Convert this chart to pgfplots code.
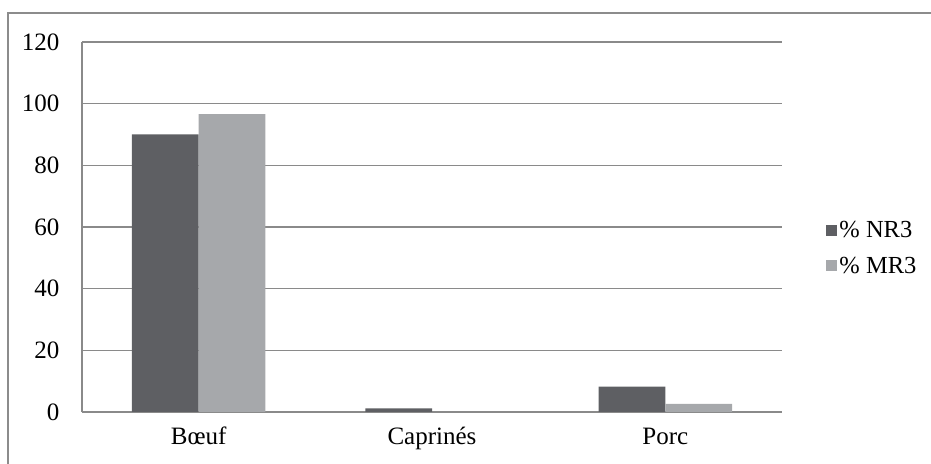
\documentclass[border=0pt]{standalone}
\usepackage{fontspec}
\setmainfont{Liberation Serif}
\usepackage{pgfplots}
\pgfplotsset{compat=1.18}
\definecolor{nrgray}{HTML}{5E5F63}
\definecolor{mrgray}{HTML}{A6A8AB}
\definecolor{linegray}{HTML}{8A8A8A}
\definecolor{framegray}{HTML}{8C8C8C}

\begin{document}
\begin{tikzpicture}
  \useasboundingbox (0bp,0bp) rectangle (931bp,464bp);
  % outer chart frame (image coords: left 8, top 13)
  \draw[framegray, line width=1.5bp] (8bp,-10bp) rectangle (940bp,451bp);
  \begin{axis}[
      at={(82bp,52bp)}, anchor=south west,
      scale only axis,
      width=700bp, height=370bp,
      xmin=-0.5, xmax=2.5,
      ymin=0, ymax=120,
      ytick={0,20,40,60,80,100,120},
      xtick=data,
      xticklabels={Bœuf, Caprinés, Porc},
      major tick length=0pt,
      ymajorgrids=true,
      grid style={linegray, line width=1.2bp},
      axis x line*=bottom,
      axis y line*=left,
      axis line style={linegray, line width=1.5bp, -},
      ybar=0pt,
      bar width=66.7bp,
      /pgf/number format/assume math mode=true,
      tick label style={font=\fontsize{25bp}{28bp}\selectfont},
      yticklabel style={xshift=-19bp},
      xticklabel style={yshift=-12bp, text height=17bp, text depth=5bp},
      legend style={
        at={(1.059,0.443)}, anchor=west,
        draw=none, fill=none,
        font=\fontsize{24.5bp}{28bp}\selectfont,
        row sep=14bp,
        /tikz/every even column/.append style={column sep=0pt},
      },
      legend cell align=left,
      legend image code/.code={\fill[#1] (0bp,-5.5bp) rectangle (11bp,5.5bp);},
    ]
    \addplot[fill=nrgray, draw=none] coordinates {(0,90) (1,1.2) (2,8.2)};
    \addlegendentry{\% NR3}
    \addplot[fill=mrgray, draw=none] coordinates {(0,96.6) (1,0) (2,2.6)};
    \addlegendentry{\% MR3}
  \end{axis}
\end{tikzpicture}
\end{document}
